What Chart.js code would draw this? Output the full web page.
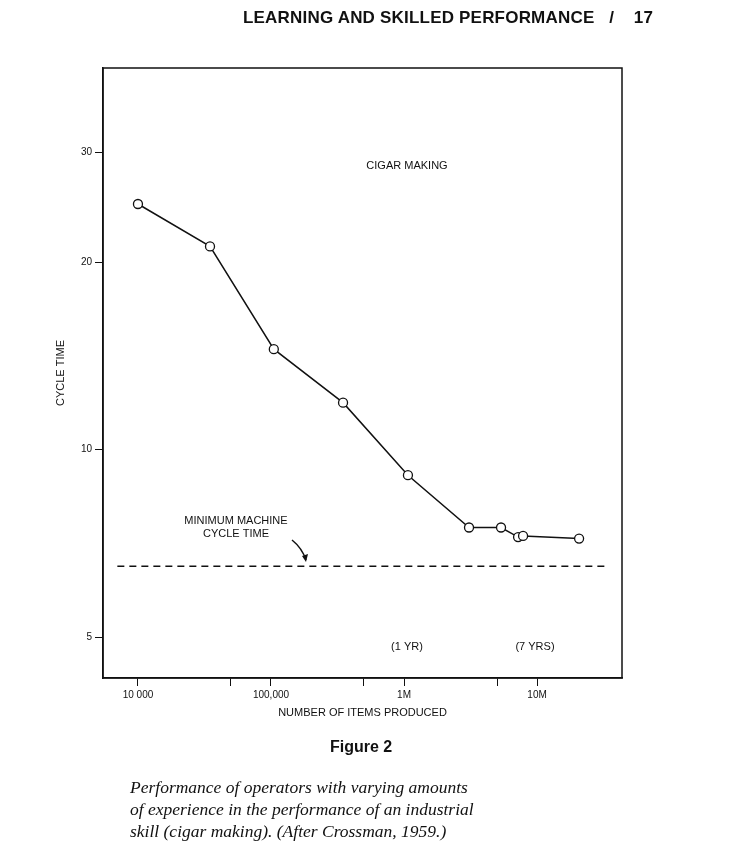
<!DOCTYPE html>
<html><head><meta charset="utf-8">
<script src="https://cdn.jsdelivr.net/npm/chart.js@4"></script>
<style>
body{margin:0;background:#fff;width:731px;height:860px;position:relative;overflow:hidden;font-family:"Liberation Sans",Arial,sans-serif;color:#111}
#c{position:absolute;left:0;top:0}
.t{position:absolute;white-space:nowrap}
</style></head><body>
<canvas id="c" width="731" height="860"></canvas>
<div class="t" style="left:243px;top:8px;font-weight:bold;font-size:17px;letter-spacing:0.2px">LEARNING AND SKILLED PERFORMANCE &nbsp;&nbsp;/&nbsp;&nbsp;&nbsp; 17</div>
<div class="t" style="left:330px;top:738px;font-weight:bold;font-size:16px">Figure 2</div>
<div class="t" style="left:130px;top:776px;font-style:italic;font-size:17.5px;font-family:'Liberation Serif',serif;line-height:22px">Performance of operators with varying amounts<br>of experience in the performance of an industrial<br>skill (cigar making). (After Crossman, 1959.)</div>
<script>
const itemsProduced=[10000,34800,105000,348000,1070000,3080000,5360000,7200000,7850000,20700000];
const cycleTime=[24.8,21.2,14.5,11.9,9.1,7.5,7.5,7.24,7.27,7.2];
const machineX=[7000,33000000];
const machineY=[6.5,6.5];
const yTicks=[5,10,20,30];
const xTicks=[10000,50000,100000,500000,1000000,5000000,10000000];
const xLabels={10000:'10 000',100000:'100,000',1000000:'1M',10000000:'10M'};
const ann={id:'ann',afterDraw(ch){const c=ch.ctx,a=ch.chartArea;c.save();c.strokeStyle='#111';c.lineWidth=1.5;c.strokeRect(a.left,a.top,a.width,a.height);
c.fillStyle='#111';c.font='11px "Liberation Sans"';c.textAlign='center';
c.fillText('CIGAR MAKING',407,169);c.fillText('MINIMUM MACHINE',236,524);c.fillText('CYCLE TIME',236,537);
c.fillText('(1 YR)',407,650);c.fillText('(7 YRS)',535,650);
c.beginPath();c.moveTo(292,540);c.quadraticCurveTo(302,548,306,560);c.stroke();
c.beginPath();c.moveTo(302,556);c.lineTo(306,562);c.lineTo(308,554);c.fill();
c.restore();}};
new Chart(document.getElementById('c'),{type:'line',
data:{datasets:[
{data:itemsProduced.map((x,i)=>({x,y:cycleTime[i]})),borderColor:'#111',borderWidth:1.5,pointRadius:4.5,pointBackgroundColor:'#fff',pointBorderColor:'#111',pointBorderWidth:1.3,tension:0},
{data:machineX.map((x,i)=>({x,y:machineY[i]})),borderColor:'#111',borderWidth:1.3,borderDash:[7,5],pointRadius:0}]},
options:{responsive:false,animation:false,layout:{padding:{left:50,right:109,top:68,bottom:136}},
plugins:{legend:{display:false},tooltip:{enabled:false}},
scales:{
x:{type:'logarithmic',min:5460,max:43500000,afterBuildTicks(s){s.ticks=xTicks.map(v=>({value:v}))},afterFit(s){s.height=46},
 ticks:{autoSkip:false,maxRotation:0,color:'#111',font:{size:10,family:'Liberation Sans'},callback:v=>xLabels[v]||''},
 grid:{drawOnChartArea:false,tickLength:8,color:'#111'},border:{color:'#111',width:1.5},
 title:{display:true,text:'NUMBER OF ITEMS PRODUCED',color:'#111',font:{size:11,family:'Liberation Sans'},padding:{top:16}}},
y:{type:'logarithmic',min:4.3,max:41,afterBuildTicks(s){s.ticks=yTicks.map(v=>({value:v}))},afterFit(s){s.width=53},
 ticks:{color:'#111',font:{size:10,family:'Liberation Sans'},callback:v=>String(v)},
 grid:{drawOnChartArea:false,tickLength:8,color:'#111'},border:{color:'#111',width:1.5},
 title:{display:true,text:'CYCLE TIME',color:'#111',font:{size:11,family:'Liberation Sans'}}}}},
plugins:[ann]});
</script></body></html>
